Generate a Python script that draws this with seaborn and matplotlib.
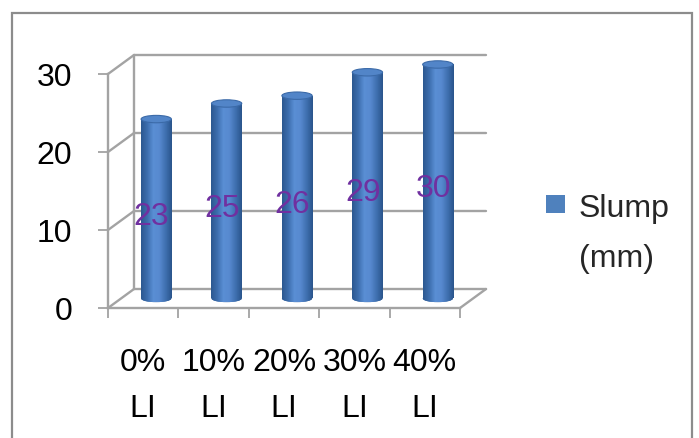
import numpy as np
import pandas as pd
import seaborn as sns
import matplotlib
matplotlib.use("Agg")
import matplotlib.pyplot as plt
import matplotlib.transforms as mtrans
from matplotlib.patches import Ellipse, Rectangle
from matplotlib.colors import LinearSegmentedColormap

# chart data
categories = ["0%\nLI", "10%\nLI", "20%\nLI", "30%\nLI", "40%\nLI"]
slump = [23, 25, 26, 29, 30]
series_name = "Slump\n(mm)"
y_ticks = [0, 10, 20, 30]

sns.set_theme(style="white")
plt.rcParams['font.family'] = ['Liberation Sans', 'DejaVu Sans']

W, H = 699, 438
fig = plt.figure(figsize=(W / 100, H / 100), dpi=100)
ax = fig.add_axes([108 / W, (H - 308) / H, 352 / W, 234 / H])
ax.set_facecolor("none")

df = pd.DataFrame({"cat": categories, "slump": slump})
sns.barplot(data=df, x="cat", y="slump", color="#4F81BD", width=0.43,
            saturation=1, linewidth=0, ax=ax, zorder=3)

xmin, xmax = -0.5, len(categories) - 0.5
ymin, ymax = y_ticks[0], y_ticks[-1]

# fake 3d box: depth offset in data units
dx, dy = 0.37, 2.44
grid_c = "#a3a3a3"
back = mtrans.Affine2D().translate(dx, dy) + ax.transData
mid = mtrans.Affine2D().translate(dx / 2, dy / 2) + ax.transData

for v in y_ticks:
    ax.plot([xmin, xmax], [v, v], transform=back, color=grid_c, lw=1.7,
            clip_on=False, zorder=0)
    ax.plot([xmin, xmin + dx], [v, v + dy], color=grid_c, lw=1.7,
            clip_on=False, zorder=0)
ax.plot([xmin, xmin], [ymin, ymax], transform=back, color=grid_c, lw=1.7,
        clip_on=False, zorder=0)
ax.plot([xmax, xmax + dx], [ymin, ymin + dy], color=grid_c, lw=1.7,
        clip_on=False, zorder=0)

# cylinders
cyl = LinearSegmentedColormap.from_list(
    "cyl", ["#2c5890", "#3d6eae", "#5a8fd5", "#5789cf", "#3f70b0", "#2a558c"])
grad = np.linspace(0, 1, 80).reshape(1, -1)
cap_h = 0.95
for bar in list(ax.patches):
    bar.set_transform(mid)
    bar.set_clip_on(False)
    x0, w, h = bar.get_x(), bar.get_width(), bar.get_height()
    base = Ellipse((x0 + w / 2, 0), w, cap_h, transform=mid, fc="#3d6dab",
                   ec="none", zorder=2, clip_on=False)
    ax.add_patch(base)
    im0 = ax.imshow(grad, cmap=cyl, aspect="auto", interpolation="bilinear",
                    extent=(x0, x0 + w, -cap_h / 2, cap_h / 2), transform=mid, zorder=2.5)
    im0.set_clip_box(None)
    im0.set_clip_path(base)
    im = ax.imshow(grad, cmap=cyl, aspect="auto", interpolation="bilinear",
                   extent=(x0, x0 + w, 0, h), transform=mid, zorder=3.5)
    im.set_clip_box(None)
    im.set_clip_path(bar)
    top = Ellipse((x0 + w / 2, h), w, cap_h, transform=mid, fc="#5285c8",
                  ec="#3b6aa8", lw=0.8, zorder=4, clip_on=False)
    ax.add_patch(top)

# data labels
lab = mtrans.Affine2D().translate(0.12, 0.2) + ax.transData
for i, v in enumerate(slump):
    ax.text(i, v / 2, str(v), transform=lab, ha="center", va="center",
            color="#7030A0", fontsize=23, zorder=6)

ax.set_xlim(xmin, xmax)
ax.set_ylim(ymin, ymax)
ax.set_xlabel("")
ax.set_ylabel("")

ax.set_yticks(y_ticks)
ax.set_yticklabels([str(v) for v in y_ticks])
ax.tick_params(axis="y", left=True, length=7.2, width=1.3, color=grid_c,
               pad=18.5, labelsize=23, labelcolor="black")
ax.set_xticks(range(len(categories)))
ax.set_xticklabels(categories, linespacing=1.7)
ax.tick_params(axis="x", which="major", length=0, pad=29, labelsize=23,
               labelcolor="black")
ax.set_xticks(np.arange(xmin, xmax + 0.01), minor=True)
ax.tick_params(axis="x", which="minor", bottom=True, length=7.2, width=1.3,
               color=grid_c)

for side in ["top", "right"]:
    ax.spines[side].set_visible(False)
for side in ["left", "bottom"]:
    ax.spines[side].set_color(grid_c)
    ax.spines[side].set_linewidth(1.7)

# legend
fig.add_artist(Rectangle((546 / W, 1 - 213 / H), 19 / W, 18 / H,
                         transform=fig.transFigure, fc="#4F81BD", ec="none"))
fig.text(579 / W, 1 - 194 / H, series_name, va="top", ha="left",
         fontsize=23, linespacing=1.85)

# chart border
fig.add_artist(Rectangle((12 / W, -0.05), 680 / W, 1.05 - 13 / H,
                         transform=fig.transFigure, fill=False,
                         ec="#8c8c8c", lw=1.6))

fig.savefig("out.png", dpi=100)
